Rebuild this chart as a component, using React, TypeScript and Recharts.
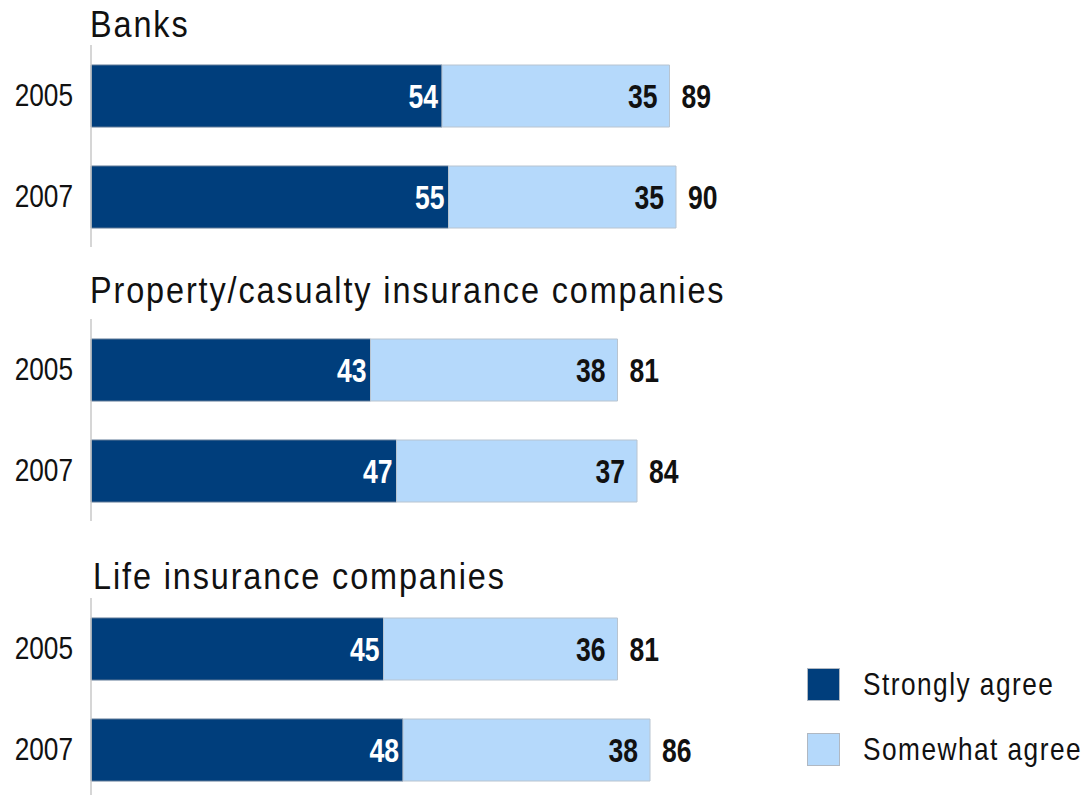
import React from "react";
import { BarChart, Bar, XAxis, YAxis, LabelList } from "recharts";

const years = ["2005", "2007"];

const banksStrongly = [54, 55];
const banksSomewhat = [35, 35];
const banksTotal = [89, 90];

const propertyStrongly = [43, 47];
const propertySomewhat = [38, 37];
const propertyTotal = [81, 84];

const lifeStrongly = [45, 48];
const lifeSomewhat = [36, 38];
const lifeTotal = [81, 86];

const panelTitles = ["Banks", "Property/casualty insurance companies", "Life insurance companies"];
const seriesNames = ["Strongly agree", "Somewhat agree"];

const FONT = "'Liberation Sans', Arial, sans-serif";
const NARROW = 0.82;
const NUM_NARROW = 0.78;
const TITLE_NARROW = 0.9;
const DARK = "#003E7C";
const LIGHT = "#B5D9FB";

type Row = { year: string; strong: number; some: number; total: number };

function build(strong: number[], some: number[], total: number[]): Row[] {
  return years.map((y, i) => ({ year: y, strong: strong[i], some: some[i], total: total[i] }));
}

const panels = [
  { title: panelTitles[0], data: build(banksStrongly, banksSomewhat, banksTotal), chartTop: 45, titleTop: 6.5, titleLeft: 90 },
  { title: panelTitles[1], data: build(propertyStrongly, propertySomewhat, propertyTotal), chartTop: 319, titleTop: 272.5, titleLeft: 90 },
  { title: panelTitles[2], data: build(lifeStrongly, lifeSomewhat, lifeTotal), chartTop: 598, titleTop: 558.5, titleLeft: 93 },
];

function NarrowText({
  x,
  y,
  value,
  anchor,
  fill,
  size,
  scale,
  weight,
}: {
  x: number;
  y: number;
  value: any;
  anchor: "start" | "end";
  fill: string;
  size: number;
  scale: number;
  weight?: string;
}) {
  return (
    <g transform={`translate(${x},${y})`}>
      <text
        transform={`scale(${scale},1)`}
        x={0}
        y={0}
        textAnchor={anchor}
        dominantBaseline="central"
        fill={fill}
        fontSize={size}
        fontFamily={FONT}
        fontWeight={weight || "normal"}
      >
        {value}
      </text>
    </g>
  );
}

const YearTick = (props: any) => {
  const { x, y, payload } = props;
  return <NarrowText x={x} y={y} value={payload.value} anchor="end" fill="#111" size={32} scale={NARROW} />;
};

const makeLabel = (mode: "inDark" | "inLight" | "total") => (props: any) => {
  const x = Number(props.x);
  const y = Number(props.y);
  const w = Number(props.width);
  const h = Number(props.height);
  const cy = y + h / 2;
  const common = { size: 34, scale: NUM_NARROW, weight: "bold" };
  if (mode === "inDark")
    return <NarrowText x={x + w - 4} y={cy} value={props.value} anchor="end" fill="#ffffff" {...common} />;
  if (mode === "inLight")
    return <NarrowText x={x + w - 12} y={cy} value={props.value} anchor="end" fill="#111111" {...common} />;
  return <NarrowText x={x + w + 12} y={cy} value={props.value} anchor="start" fill="#111111" {...common} />;
};

function Panel({ data, top }: { data: Row[]; top: number }) {
  return (
    <div style={{ position: "absolute", left: 0, top }}>
      <BarChart
        width={760}
        height={202}
        data={data}
        layout="vertical"
        margin={{ top: 0, right: 19, bottom: 0, left: 0 }}
        barSize={62}
      >
        <XAxis type="number" domain={[0, 100]} hide />
        <YAxis
          type="category"
          dataKey="year"
          width={91}
          axisLine={{ stroke: "#c8c8c8", strokeWidth: 1.5 }}
          tickLine={false}
          tickMargin={12}
          tick={<YearTick />}
        />
        <Bar dataKey="strong" stackId="a" fill={DARK} stroke="#5f7896" strokeWidth={1} isAnimationActive={false}>
          <LabelList dataKey="strong" content={makeLabel("inDark")} />
        </Bar>
        <Bar dataKey="some" stackId="a" fill={LIGHT} stroke="#b8c4d0" strokeWidth={1} isAnimationActive={false}>
          <LabelList dataKey="some" content={makeLabel("inLight")} />
          <LabelList dataKey="total" content={makeLabel("total")} />
        </Bar>
      </BarChart>
    </div>
  );
}

export default function App() {
  return (
    <div
      style={{
        position: "absolute",
        left: 0,
        top: 0,
        width: 1086,
        height: 795,
        overflow: "hidden",
        background: "#ffffff",
        fontFamily: FONT,
        color: "#111",
      }}
    >
      {panels.map((p, i) => (
        <React.Fragment key={i}>
          <div
            style={{
              position: "absolute",
              left: p.titleLeft,
              top: p.titleTop,
              fontSize: 36,
              lineHeight: "36px",
              letterSpacing: 2.1,
              whiteSpace: "nowrap",
              transform: `scaleX(${TITLE_NARROW})`,
              transformOrigin: "left top",
            }}
          >
            {p.title}
          </div>
          <Panel data={p.data} top={p.chartTop} />
        </React.Fragment>
      ))}
      {[DARK, LIGHT].map((c, i) => (
        <React.Fragment key={"lg" + i}>
          <div
            style={{
              position: "absolute",
              left: 807,
              top: 668 + i * 65,
              width: 31,
              height: 31,
              background: c,
              border: "1px solid #b0b8c2",
            }}
          />
          <div
            style={{
              position: "absolute",
              left: 863,
              top: 668 + i * 65,
              fontSize: 32,
              lineHeight: "32px",
              letterSpacing: 1.8,
              whiteSpace: "nowrap",
              transform: `scaleX(${NARROW})`,
              transformOrigin: "left top",
            }}
          >
            {seriesNames[i]}
          </div>
        </React.Fragment>
      ))}
    </div>
  );
}
